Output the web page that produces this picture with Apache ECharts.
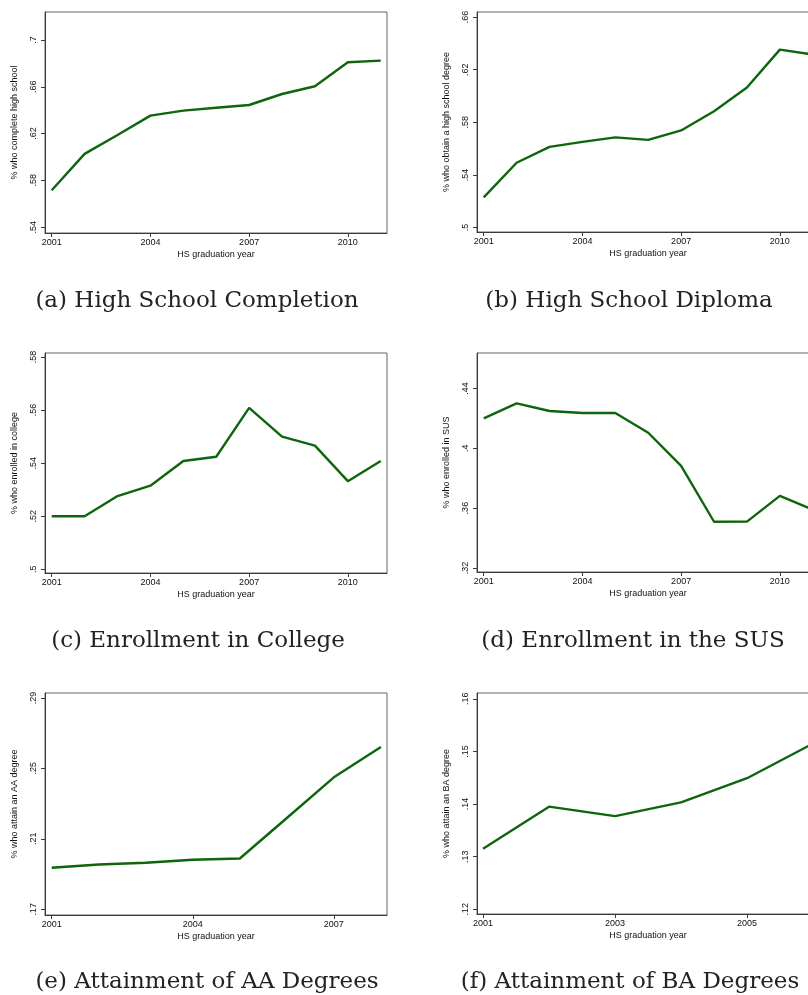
<!DOCTYPE html>
<html>
<head>
<meta charset="utf-8">
<script src="https://cdn.jsdelivr.net/npm/echarts@6/dist/echarts.min.js"></script>
<style>
  html, body { margin: 0; padding: 0; background: #fff; overflow: hidden; }
  #chart { width: 830px; height: 995px; }
</style>
</head>
<body>
<div id="chart"></div>
<script>
// Graduation cohorts
const years11 = [2001, 2002, 2003, 2004, 2005, 2006, 2007, 2008, 2009, 2010, 2011];
const yearsAA = [2001, 2002, 2003, 2004, 2005, 2006, 2007, 2008];
const yearsBA = [2001, 2002, 2003, 2004, 2005, 2006];

// Outcome shares by cohort
const completion = [0.5715, 0.6026, 0.6188, 0.6353, 0.6396, 0.6421, 0.6444, 0.6538, 0.6604, 0.6809, 0.6823];
const diploma    = [0.5229, 0.5492, 0.5613, 0.5651, 0.5685, 0.5666, 0.5738, 0.5884, 0.6064, 0.6352, 0.6315];
const college    = [0.5200, 0.5200, 0.5276, 0.5315, 0.5408, 0.5424, 0.5608, 0.5500, 0.5466, 0.5332, 0.5408];
const sus        = [0.4200, 0.4300, 0.4249, 0.4236, 0.4236, 0.4104, 0.3882, 0.3509, 0.3510, 0.3682, 0.3590];
const aaDegree   = [0.1935, 0.1954, 0.1964, 0.1981, 0.1988, 0.2218, 0.2449, 0.2621];
const baDegree   = [0.1315, 0.1395, 0.1377, 0.1403, 0.1449, 0.1515];

// Tick labels
const yTicksA = [0.54, 0.58, 0.62, 0.66, 0.70];
const yTicksB = [0.50, 0.54, 0.58, 0.62, 0.66];
const yTicksC = [0.50, 0.52, 0.54, 0.56, 0.58];
const yTicksD = [0.32, 0.36, 0.40, 0.44];
const yTicksE = [0.17, 0.21, 0.25, 0.29];
const yTicksF = [0.12, 0.13, 0.14, 0.15, 0.16];
const xTicks11 = [2001, 2004, 2007, 2010];
const xTicksAA = [2001, 2004, 2007];
const xTicksBA = [2001, 2003, 2005];

const yTitles = [
  '% who complete high school',
  '% who obtain a high school degree',
  '% who enrolled in college',
  '% who enrolled in SUS',
  '% who attain an AA degree',
  '% who attain an BA degree'
];
const captions = [
  '(a) High School Completion',
  '(b) High School Diploma',
  '(c) Enrollment in College',
  '(d) Enrollment in the SUS',
  '(e) Attainment of AA Degrees',
  '(f) Attainment of BA Degrees'
];

// Panel setup: data, ticks and axis extents
const panels = [
  { x: years11, y: completion, xt: xTicks11, yt: yTicksA, xr: [2000.796, 2011.19], yr: [0.535, 0.7239] },
  { x: years11, y: diploma,    xt: xTicks11, yt: yTicksB, xr: [2000.796, 2011.19], yr: [0.4966, 0.6638] },
  { x: years11, y: college,    xt: xTicks11, yt: yTicksC, xr: [2000.796, 2011.19], yr: [0.4986, 0.5815] },
  { x: years11, y: sus,        xt: xTicks11, yt: yTicksD, xr: [2000.796, 2011.19], yr: [0.3173, 0.4637] },
  { x: yearsAA, y: aaDegree,   xt: xTicksAA, yt: yTicksE, xr: [2000.857, 2008.13], yr: [0.1667, 0.2928] },
  { x: yearsBA, y: baDegree,   xt: xTicksBA, yt: yTicksF, xr: [2000.909, 2006.09], yr: [0.1191, 0.1611] }
];

const gridBoxes = [
  { left: 45,  top: 12,  width: 342, height: 221 },
  { left: 477, top: 12,  width: 342, height: 220 },
  { left: 45,  top: 353, width: 342, height: 220 },
  { left: 477, top: 353, width: 342, height: 219 },
  { left: 45,  top: 693, width: 342, height: 222 },
  { left: 477, top: 693, width: 342, height: 221 }
];
const captionPos = [
  { x: 197, y: 301 }, { x: 629, y: 301 },
  { x: 198, y: 641 }, { x: 633, y: 641 },
  { x: 207, y: 982 }, { x: 630, y: 982 }
];

const sansFont = 'Liberation Sans, Arial, sans-serif';
const axisColor = '#3a3a3a';
const lineColor = '#0d650d';

const fmt = v => {
  const s = String(Number(v.toFixed(4)));
  return s.replace(/^0\./, '.');
};

const option = {
  animation: false,
  backgroundColor: '#ffffff',
  grid: gridBoxes.map(g => Object.assign({
    show: true, borderColor: '#666', borderWidth: 1, backgroundColor: '#fff',
    containLabel: false
  }, g)),
  xAxis: panels.map((p, i) => ({
    type: 'value', gridIndex: i, min: p.xr[0], max: p.xr[1],
    name: 'HS graduation year', nameLocation: 'middle', nameGap: 17,
    nameTextStyle: { fontFamily: sansFont, fontSize: 9, color: '#111' },
    axisLine: { show: true, onZero: false, lineStyle: { color: axisColor, width: 1 } },
    axisTick: { show: true, length: 4, customValues: p.xt, lineStyle: { color: axisColor } },
    axisLabel: { customValues: p.xt, margin: 5, fontFamily: sansFont, fontSize: 9, color: '#111',
                 formatter: v => String(v) },
    splitLine: { show: false }
  })),
  yAxis: panels.map((p, i) => ({
    type: 'value', gridIndex: i, min: p.yr[0], max: p.yr[1],
    name: yTitles[i], nameLocation: 'middle', nameGap: 26, nameRotate: 90,
    nameTextStyle: { fontFamily: sansFont, fontSize: 9, color: '#111' },
    axisLine: { show: true, onZero: false, lineStyle: { color: axisColor, width: 1 } },
    axisTick: { show: true, length: 4, customValues: p.yt, lineStyle: { color: axisColor } },
    axisLabel: { customValues: p.yt, rotate: 90, margin: 7, fontFamily: sansFont, fontSize: 9,
                 color: '#111', formatter: fmt },
    splitLine: { show: false }
  })),
  series: panels.map((p, i) => ({
    type: 'line', xAxisIndex: i, yAxisIndex: i,
    data: p.x.map((yr, k) => [yr, p.y[k]]),
    showSymbol: false, symbol: 'none',
    lineStyle: { color: lineColor, width: 2.4 },
    clip: true
  })),
  title: captions.map((c, i) => ({
    text: c, left: captionPos[i].x, top: captionPos[i].y, padding: 0,
    textAlign: 'center', textVerticalAlign: 'middle',
    textStyle: { fontFamily: 'DejaVu Serif, Liberation Serif, serif', fontSize: 23, fontWeight: 'normal', color: '#222' }
  }))
};

const chart = echarts.init(document.getElementById('chart'), null, { renderer: 'canvas' });
chart.setOption(option);
</script>
</body>
</html>
